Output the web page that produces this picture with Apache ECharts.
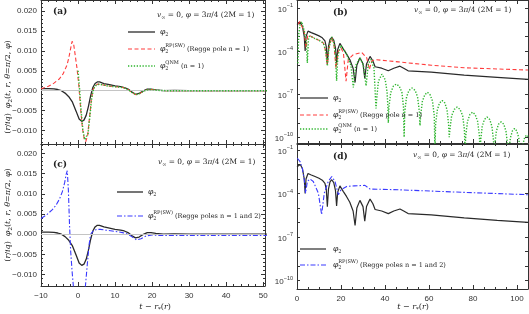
<!DOCTYPE html>
<html><head><meta charset="utf-8">
<script src="https://cdn.jsdelivr.net/npm/echarts@6/dist/echarts.min.js"></script>
<style>html,body{margin:0;padding:0;background:#fff}#c{width:529px;height:314px}</style>
</head><body><div id="c"></div>
<script>
// ---------------- DATA ----------------
// linear panels (a),(c): [t - r*(r), (r/iq) phi2]
const linPhi2 = [[-10,0.0005],[-8,0.0005],[-6.5,0.00045],[-5.5,0.0003],[-4.5,0.0],[-3.5,-0.0006],[-2.5,-0.0015],[-1.5,-0.0029],[-0.5,-0.0052],[0.3,-0.0071],[1,-0.0077],[1.6,-0.0074],[2.2,-0.0062],[2.8,-0.004],[3.4,-0.0013],[4,0.0008],[4.6,0.0018],[5.2,0.0022],[5.8,0.0022],[7,0.0018],[8.5,0.0015],[10,0.0012],[11.5,0.001],[12.5,0.0008],[13.5,0.0004],[14.5,-0.0003],[15.5,-0.0009],[16.5,-0.0007],[17.5,-0.0001],[18.7,0.0004],[19.7,0.0004],[21,0.0002],[23,0.0],[26,0.0001],[30,0.0],[51,0.0]];
const linRP1 = [[-10,0.0005],[-8,0.0011],[-6.5,0.0019],[-5,0.003],[-4,0.0043],[-3,0.0064],[-2.5,0.0082],[-2,0.0106],[-1.6,0.0124],[-1.2,0.0118],[-0.8,0.0092],[-0.3,0.0058],[0.2,0.0015],[0.7,-0.0045],[1.2,-0.0095],[1.7,-0.0122],[2.1,-0.0128],[2.6,-0.0112],[3.1,-0.0068],[3.6,-0.0022],[4.1,0.0004],[4.7,0.0013],[5.4,0.0017],[6.5,0.0015],[8,0.0012],[10,0.001],[11.5,0.0009],[12.5,0.0007],[13.5,0.0003],[14.5,-0.0004],[15.7,-0.001],[16.7,-0.0007],[17.7,-0.0001],[19,0.0003],[20,0.0003],[21.5,0.0001],[24,0.0],[51,0.0]];
const linQNM1 = [[0,0.005],[0.4,0.0005],[0.8,-0.0048],[1.3,-0.0098],[1.8,-0.0123],[2.2,-0.0126],[2.7,-0.0108],[3.2,-0.0064],[3.7,-0.0018],[4.2,0.0005],[4.8,0.0013],[5.5,0.0016],[6.5,0.0015],[8,0.0012],[10,0.001],[11.5,0.0009],[12.5,0.0007],[13.5,0.0003],[14.5,-0.0004],[15.7,-0.001],[16.7,-0.0007],[17.7,-0.0001],[19,0.0003],[20,0.0003],[21.5,0.0001],[24,0.0],[51,0.0]];
const linRP12 = [[-10,0.0039],[-8.5,0.0048],[-7,0.006],[-6,0.0071],[-5,0.0087],[-4.2,0.0106],[-3.6,0.0128],[-3.2,0.0148],[-2.9,0.0157],[-2.6,0.0108],[-2.3,0.0025],[-2,-0.004],[-1.6,-0.0092],[-1.2,-0.0135],[-0.5,-0.02],[0.5,-0.024],[1.5,-0.018],[2,-0.0128],[2.5,-0.0075],[3,-0.0025],[3.4,0.0],[4,0.0007],[5,0.0012],[6,0.0012],[7.5,0.001],[10,0.0007],[12,0.0004],[13.5,0.0],[14.5,-0.0006],[15.8,-0.0014],[17,-0.0011],[18.5,-0.0004],[20,-0.0002],[22,-0.0003],[30,-0.0003],[40,-0.0003],[51,-0.0003]];

// log panels (b),(d): [t - r*(r), log10 |phi2|]
const logPhi2 = [[0,-2.15],[0.8,-2.02],[1.5,-2.0],[2.5,-2.3],[3.3,-3.0],[3.7,-4.0],[4.1,-3.0],[5,-2.62],[6.5,-2.72],[8.2,-2.83],[10,-2.95],[11.5,-3.08],[12.7,-3.3],[13.3,-3.7],[13.8,-4.9],[14.3,-3.7],[15,-3.2],[15.8,-3.05],[16.7,-3.25],[17.5,-3.8],[18.0,-4.85],[18.5,-3.9],[19.5,-3.47],[21,-3.85],[22.5,-4.2],[24,-4.6],[25.5,-5.2],[26.4,-6.2],[27.2,-5.0],[28.6,-4.47],[30,-4.9],[30.8,-5.9],[31.6,-4.9],[33.2,-4.38],[34.5,-4.7],[35.5,-5.1],[36.3,-5.15],[38.5,-5.2],[41.5,-5.38],[44,-5.2],[46.8,-5.06],[48.5,-5.2],[50.5,-5.38],[61,-5.47],[76,-5.68],[91,-5.84],[105,-5.98]];
const logRP1 = [[0.6,-2.14],[1.2,-1.95],[2.1,-1.9],[3.3,-2.65],[4.1,-3.79],[4.9,-2.92],[6,-2.95],[8.2,-3.14],[10,-3.25],[12,-3.45],[13,-4.0],[13.8,-4.94],[14.5,-3.8],[15.8,-3.06],[16.8,-3.56],[17.7,-5.2],[18.8,-4.02],[20,-3.79],[21.1,-4.14],[22.3,-6.1],[23.3,-4.6],[25.6,-4.25],[29.4,-4.1],[31.7,-4.48],[32.9,-5.28],[34,-4.7],[35.5,-4.6],[46,-4.76],[61,-4.99],[76,-5.17],[105,-5.33]];
const logQNM1 = [[0.4,-4.85],[0.8,-2.8],[1.4,-2.15],[2.1,-1.95],[3.3,-2.6],[4.2,-3.3],[4.7,-4.83],[5.2,-3.2],[5.8,-2.95],[8.2,-3.14],[10,-3.25],[12,-3.45],[13,-4.0],[13.8,-5.05],[14.5,-3.8],[15.8,-3.0],[16.8,-3.5],[17.5,-4.3],[18,-6.08],[18.6,-4.3],[20,-3.61],[21.5,-3.95],[22.6,-4.25],[24.5,-5.0],[25.6,-6.54],[26.7,-5.0],[28.6,-4.48],[30.2,-5.0],[31.4,-6.43],[32.4,-4.9],[33.6,-4.6],[35,-5.2],[35.9,-8.0],
 [36.3,-7.2],[37.0,-6.1],[38.6,-5.62],[40.1,-6.0],[40.9,-6.8],[41.3,-7.8],[41.5,-9.0],
 [41.8,-7.9],[42.6,-6.9],[43.8,-6.45],[45.1,-6.31],[46.5,-6.45],[47.7,-6.9],[48.4,-7.9],[48.7,-10],
 [49.0,-8.2],[49.8,-7.2],[50.9,-6.75],[52.3,-6.58],[53.7,-6.75],[54.8,-7.2],[55.6,-8.2],[55.9,-9.2],
 [56.2,-8.5],[57.0,-7.5],[58.1,-7.05],[59.3,-6.88],[60.5,-7.05],[61.6,-7.5],[62.4,-8.5],[62.7,-11],
 [63.0,-9.1],[63.8,-8.1],[64.8,-7.62],[66.0,-7.45],[67.2,-7.62],[68.2,-8.1],[68.9,-9.1],[69.2,-10],
 [69.5,-9.5],[70.3,-8.5],[71.5,-8.07],[72.8,-7.9],[74.1,-8.07],[75.3,-8.5],[76.1,-9.5],[76.4,-11],
 [76.7,-9.9],[77.5,-8.9],[78.6,-8.43],[79.8,-8.26],[81.0,-8.43],[82.1,-8.9],[82.9,-9.9],[83.2,-11],
 [83.5,-10.2],[84.2,-9.25],[85.2,-8.77],[86.4,-8.6],[87.6,-8.77],[88.6,-9.25],[89.3,-10.2],[89.6,-11],
 [89.9,-10.5],[90.6,-9.6],[91.6,-9.1],[92.8,-8.94],[94.0,-9.1],[95.0,-9.6],[95.7,-10.5],[96,-11.5],
 [96.3,-11],[97.0,-10.05],[97.9,-9.57],[98.9,-9.4],[99.9,-9.57],[100.8,-10.05],[101.4,-11],[101.7,-12],
 [102.0,-11.4],[102.7,-10.5],[103.5,-10.02],[104.4,-9.86],[105,-9.95]];
const logRP12 = [[0.15,-1.57],[1.4,-1.8],[2.4,-2.26],[3.3,-3.05],[3.9,-3.97],[4.7,-3.17],[5.9,-3.0],[7.4,-3.17],[9.7,-3.97],[11.2,-5.45],[12.4,-3.97],[14.2,-3.17],[15.8,-2.83],[17.3,-3.17],[18.8,-4.08],[20,-3.74],[22.6,-3.51],[26,-3.47],[30.9,-3.44],[33.2,-3.69],[46,-3.74],[61,-3.83],[76,-3.92],[105,-4.08]];

// tick values
const linXMajor = [-10,0,10,20,30,40,50];
const linYMajor = [-0.010,-0.005,0.000,0.005,0.010,0.015,0.020];
const logXMajor = [0,20,40,60,80,100];
const logYLabelExp = [-10,-7,-4,-1];

// ---------------- HELPERS ----------------
const AX = '#333';
const TICKF = '"Liberation Sans", Arial, sans-serif';
const SERIF = '"DejaVu Serif", serif';
function steps(a, b, s){ const r=[]; for(let v=a; v<=b+1e-9; v+=s) r.push(+v.toFixed(6)); return r; }
const toLog = arr => arr.map(p => [p[0], Math.pow(10, p[1])]);

function linAxes(gi, dim, min, max, major, minor, showLab, fmt, posA, posB){
  const base = {gridIndex:gi, type:'value', min, max, splitLine:{show:false}};
  const line = {show:true, onZero:false, lineStyle:{color:AX, width:1}};
  const noLine = {show:false, onZero:false};
  const tick = (len, vals)=>({show:true, inside:true, length:len, customValues:vals, lineStyle:{color:AX, width:1}});
  const lab = {show:showLab, customValues:major, fontSize:8, color:'#333', fontFamily:TICKF, margin: dim==='x'?6:4, formatter:fmt};
  return [
    {...base, position:posA, axisLine:line, axisTick:tick(4, major), axisLabel:lab},
    {...base, position:posA, axisLine:noLine, axisTick:tick(2, minor), axisLabel:{show:false}},
    {...base, position:posB, axisLine:line, axisTick:tick(4, major), axisLabel:{show:false}},
    {...base, position:posB, axisLine:noLine, axisTick:tick(2, minor), axisLabel:{show:false}},
  ];
}
function fmtLog(v){
  const e = Math.log10(v), r = Math.round(e);
  if (Math.abs(e-r) > 0.02 || logYLabelExp.indexOf(r) < 0) return '';
  return '{b|10}{s|−' + (-r) + '}';
}
function logAxes(gi, minE, maxE){
  const base = {gridIndex:gi, type:'log', logBase:10, min:Math.pow(10,minE), max:Math.pow(10,maxE), splitNumber:9, splitLine:{show:false}};
  const line = {show:true, onZero:false, lineStyle:{color:AX, width:1}};
  const noLine = {show:false, onZero:false};
  const tick = {show:true, inside:true, length:3, lineStyle:{color:AX, width:1}};
  return [
    {...base, position:'left', axisLine:line, axisTick:tick, axisLabel:{show:true, margin:4, formatter:fmtLog,
      rich:{b:{fontSize:8, fontFamily:TICKF, color:'#333', verticalAlign:'bottom', lineHeight:11},
            s:{fontSize:5.5, fontFamily:TICKF, color:'#333', verticalAlign:'top', lineHeight:11}}}},
    {...base, position:'left', axisLine:noLine, axisTick:{show:false}, axisLabel:{show:false}},
    {...base, position:'right', axisLine:line, axisTick:tick, axisLabel:{show:false}},
    {...base, position:'right', axisLine:noLine, axisTick:{show:false}, axisLabel:{show:false}},
  ];
}
const fmtX = v => String(v).replace('-', '−');
const fmtY = v => v.toFixed(3).replace('-', '−');

// grids: 0=(a) 1=(b) 2=(c) 3=(d)
const grids = [
  {left:41, top:-2, width:224, height:146},
  {left:297, top:-2, width:231, height:145},
  {left:41, top:144, width:224, height:142},
  {left:297, top:144, width:231, height:145},
];
const xAxes = [].concat(
  linAxes(0,'x',-10,50.5,linXMajor,steps(-10,50,2),false,fmtX,'bottom','top'),
  linAxes(1,'x',0,105,logXMajor,steps(0,105,5),false,fmtX,'bottom','top'),
  linAxes(2,'x',-10,50.5,linXMajor,steps(-10,50,2),true,fmtX,'bottom','top'),
  linAxes(3,'x',0,105,logXMajor,steps(0,105,5),true,fmtX,'bottom','top')
);
const yAxes = [].concat(
  linAxes(0,'y',-0.0134,0.0228,linYMajor,steps(-0.013,0.022,0.001),true,fmtY,'left','right'),
  logAxes(1,-10.41,-0.45),
  linAxes(2,'y',-0.0128,0.0223,linYMajor,steps(-0.012,0.022,0.001),true,fmtY,'left','right'),
  logAxes(3,-10.57,-0.59)
);

const C_BLK = '#2a2a2a', C_RED = '#ff3c3c', C_GRN = '#2db52d', C_BLU = '#3a3aff';
const S_RED = [4,2.5], S_GRN = [1.3,1.6], S_BLU = [5,2,1.5,2];
function ser(data, gi, color, type, width, z){
  return {type:'line', data, xAxisIndex:gi*4, yAxisIndex:gi*4, symbol:'none', showSymbol:false,
          lineStyle:{color, width, type, cap:'butt'}, clip:true, silent:true, animation:false, z:z||3};
}
function zeroLine(gi){
  return {type:'line', data:[], xAxisIndex:gi*4, yAxisIndex:gi*4, z:1, silent:true, animation:false,
    markLine:{silent:true, symbol:['none','none'], label:{show:false}, animation:false,
      lineStyle:{color:'#c4c4c4', type:'solid', width:1}, data:[{yAxis:0}]}};
}
const series = [
  zeroLine(0), zeroLine(2),
  ser(linPhi2,0,C_BLK,'solid',1.3),
  ser(linRP1,0,C_RED,S_RED,1.1,4),
  ser(linQNM1,0,C_GRN,S_GRN,1.5,5),
  ser(toLog(logPhi2),1,C_BLK,'solid',1.2),
  ser(toLog(logRP1),1,C_RED,S_RED,1.1,4),
  ser(toLog(logQNM1),1,C_GRN,S_GRN,1.4,5),
  ser(linPhi2,2,C_BLK,'solid',1.3),
  ser(linRP12,2,C_BLU,S_BLU,1.1,4),
  ser(toLog(logPhi2),3,C_BLK,'solid',1.2),
  ser(toLog(logRP12),3,C_BLU,S_BLU,1.1,4),
];

// ---------- text (math) helpers ----------
const mc = document.createElement('canvas').getContext('2d');
function W(t, sz, it, bold){ mc.font = (it?'italic ':'') + (bold?'bold ':'') + sz + 'px ' + SERIF; return mc.measureText(t).width; }
function T(x, y, t, sz, it, bold){
  return {type:'text', x, y, z:50, silent:true, style:{text:t, fontSize:sz, fontStyle:it?'italic':'normal',
    fontWeight:bold?'bold':'normal', fontFamily:SERIF, fill:'#222', align:'left', verticalAlign:'middle',
    textAlign:'left', textVerticalAlign:'middle'}};
}
function M(x, y, parts){
  const out=[]; let cx=x;
  for (const p of parts){
    if (p.st){ let w=0; for (const s of p.st){ out.push(T(cx, y+s[2], s[0], s[1], s[3])); w=Math.max(w, W(s[0],s[1],s[3])); } cx+=w; }
    else { out.push(T(cx, y+(p[2]||0), p[0], p[1], p[3])); cx += W(p[0], p[1], p[3]); }
  }
  return {els:out, w:cx-x};
}
function centered(cx, cy, parts, rot){
  const w = M(0,0,parts).w;
  if (rot) return [{type:'group', x:cx, y:cy, rotation:rot, children:M(-w/2,0,parts).els}];
  return M(cx-w/2, cy, parts).els;
}
function seg(x1,x2,y,color,dash,w){
  return {type:'line', z:50, silent:true, shape:{x1,y1:y,x2,y2:y}, style:{stroke:color, lineWidth:w, lineDash:dash||null}};
}
const F = 7.4, FS = 5, FL = 6.5, FP = 7.6, FY = 8;
const annParts = [['v',F,0,true],['∞',FS,2.3,false],[' = 0, ',F,0,false],['φ',F,0,true],[' = 3',F,0,false],['π',F,0,true],['/4 (2M = 1)',F,0,false]];
const phiParts = [['φ',FP,0,true],['2',FS,2.5,false]];
const rpParts = lbl => [['φ',FP,0,true],{st:[['RP(SW)',FS,-3.3,false],['2',FS,2.5,false]]},[' ('+lbl+')',FL,0,false]];
const qnmParts = [['φ',FP,0,true],{st:[['QNM',FS,-3.3,false],['2',FS,2.5,false]]},[' (n = 1)',FL,0,false]];
const xTitle = [['t',FY,0,true],[' − ',FY,0,false],['r',FY,0,true],['*',FS+0.5,2.5,false],['(',FY,0,false],['r',FY,0,true],[')',FY,0,false]];
const yTitle = [['(',FY,0],['r',FY,0,true],['/',FY,0],['iq',FY,0,true],[')  ',FY,0],['φ',FY,0,true],['2',FS+0.5,2.5],['(',FY,0],['t',FY,0,true],[', ',FY,0],['r',FY,0,true],[', ',FY,0],['θ',FY,0,true],['=',FY,0],['π',FY,0,true],['/2, ',FY,0],['φ',FY,0,true],[')',FY,0]];

let G = [];
G.push(T(53,12,'(a)',9,false,true), T(333,13,'(b)',9,false,true), T(53,165,'(c)',9,false,true), T(333,157,'(d)',9,false,true));
G = G.concat(M(157,15,annParts).els, M(414,10,annParts).els, M(158,162,annParts).els, M(413,155,annParts).els);
G.push(seg(128,155,32,C_BLK,null,1.3), seg(128,155,49,C_RED,S_RED,1.1), seg(128,155,66,C_GRN,S_GRN,1.5));
G = G.concat(M(160,32,phiParts).els, M(160,49,rpParts('Regge pole n = 1')).els, M(160,66,qnmParts).els);
G.push(seg(300,328,98,C_BLK,null,1.2), seg(300,328,115,C_RED,S_RED,1.1), seg(300,328,129,C_GRN,S_GRN,1.4));
G = G.concat(M(333,98,phiParts).els, M(333,115,rpParts('Regge pole n = 1')).els, M(333,129,qnmParts).els);
G.push(seg(117,143,192,C_BLK,null,1.3), seg(117,143,216,C_BLU,S_BLU,1.1));
G = G.concat(M(148,192,phiParts).els, M(148,216,rpParts('Regge poles n = 1 and 2')).els);
G.push(seg(300,326,249,C_BLK,null,1.2), seg(300,326,265,C_BLU,S_BLU,1.1));
G = G.concat(M(333,249,phiParts).els, M(333,265,rpParts('Regge poles n = 1 and 2')).els);
G = G.concat(centered(155,307,xTitle), centered(413,307,xTitle));
G = G.concat(centered(8,87,yTitle,Math.PI/2), centered(8,215,yTitle,Math.PI/2));

const chart = echarts.init(document.getElementById('c'), null, {renderer:'canvas'});
chart.setOption({animation:false, backgroundColor:'#fff', grid:grids, xAxis:xAxes, yAxis:yAxes, series, graphic:G});
</script></body></html>
